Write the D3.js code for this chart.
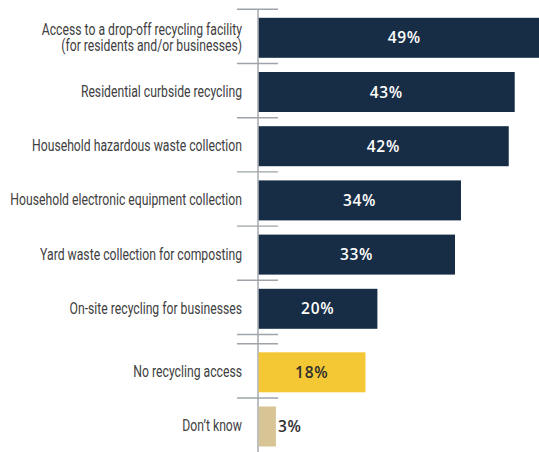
<!DOCTYPE html>
<html>
<head>
<meta charset="utf-8">
<script src="https://cdn.jsdelivr.net/npm/d3@7"></script>
<style>
  html, body { margin: 0; padding: 0; background: #ffffff; }
  svg { display: block; }
</style>
</head>
<body>
<svg id="chart" width="539" height="452"></svg>
<script>
// Services offered: main answers, then "no access" / "don't know"
const mainCategories = [
  "Access to a drop-off recycling facility\n(for residents and/or businesses)",
  "Residential curbside recycling",
  "Household hazardous waste collection",
  "Household electronic equipment collection",
  "Yard waste collection for composting",
  "On-site recycling for businesses"
];
const mainValues = [49, 43, 42, 34, 33, 20];

const otherCategories = ["No recycling access", "Don\u2019t know"];
const otherValues = [18, 3];

const mainColor = "#172d45";
const otherColors = ["#f4c834", "#d7c596"];

const svg = d3.select("#chart");
const W = 539, H = 452;

const axisX = 258;
const labelX = 242;
const step = 54.2;
const panel1Top = 9.3;
const panel2Top = 343.8;

const x = d3.scaleLinear().domain([0, 50]).range([axisX, axisX + 5.97 * 50]);

const yMain = d3.scaleBand().domain(mainCategories)
  .range([panel1Top, panel1Top + step * mainCategories.length]).padding(0);
const yOther = d3.scaleBand().domain(otherCategories)
  .range([panel2Top, panel2Top + step * otherCategories.length]).padding(0);

const barOffset = 8.5, barHeight = 40;

svg.append("defs").append("clipPath").attr("id", "plotClip")
  .append("rect").attr("x", 0).attr("y", 0).attr("width", W).attr("height", H);

// axis: vertical line plus boundary ticks crossing it
const axisG = svg.append("g");
const boundaries = [
  ...mainCategories.map(c => yMain(c)), yMain.range()[1],
  ...otherCategories.map(c => yOther(c))
];
axisG.selectAll("line.tick").data(boundaries).join("line")
  .attr("class", "tick")
  .attr("x1", axisX - 21).attr("x2", axisX + 20)
  .attr("y1", d => d).attr("y2", d => d)
  .attr("stroke", "#9ea4a9").attr("stroke-width", 1.4);
axisG.append("line")
  .attr("x1", axisX).attr("x2", axisX)
  .attr("y1", panel1Top).attr("y2", H)
  .attr("stroke", "#9ea4a9").attr("stroke-width", 1.4);

function drawPanel(cats, vals, y, colorFor, textColorFor) {
  const rows = cats.map((c, i) => ({ cat: c, val: vals[i], i }));
  const g = svg.append("g").attr("clip-path", "url(#plotClip)");

  g.selectAll("rect").data(rows).join("rect")
    .attr("x", x(0) + 0.7)
    .attr("y", d => y(d.cat) + barOffset)
    .attr("width", d => x(d.val) - x(0) - 0.7)
    .attr("height", barHeight)
    .attr("fill", d => colorFor(d));

  // value labels: centred in the bar, or just outside when the bar is short
  svg.append("g").selectAll("text").data(rows).join("text")
    .attr("x", d => (x(d.val) - x(0) > 40) ? (x(0) + x(d.val)) / 2 : x(d.val) + 2)
    .attr("y", d => y(d.cat) + barOffset + barHeight / 2)
    .attr("dy", "0.36em")
    .attr("text-anchor", d => (x(d.val) - x(0) > 40) ? "middle" : "start")
    .attr("font-family", "'Open Sans', sans-serif")
    .attr("font-weight", 600)
    .attr("font-size", "15.5px")
    .attr("letter-spacing", "0.7px")
    .attr("fill", d => textColorFor(d))
    .text(d => d.val + "%");

  // category labels, condensed and right-aligned against the axis
  const lab = svg.append("g").selectAll("g").data(rows).join("g")
    .attr("transform", d => `translate(${labelX},${y(d.cat) + barOffset + barHeight / 2}) scale(0.74,1)`)
    .append("text")
    .attr("text-anchor", "end")
    .attr("font-family", "Roboto, 'Noto Sans', sans-serif")
    .attr("font-size", "16.5px")
    .attr("fill", "#404040");
  lab.each(function(d) {
    const lines = d.cat.split("\n");
    const t = d3.select(this);
    lines.forEach((ln, k) => {
      t.append("tspan")
        .attr("x", 0)
        .attr("dy", k === 0 ? (0.3 - (lines.length - 1) * 0.5 * 0.98) + "em" : "0.98em")
        .text(ln);
    });
  });
}

drawPanel(mainCategories, mainValues, yMain, () => mainColor, () => "#ffffff");
drawPanel(otherCategories, otherValues, yOther, d => otherColors[d.i], () => "#2e2e2e");
</script>
</body>
</html>
